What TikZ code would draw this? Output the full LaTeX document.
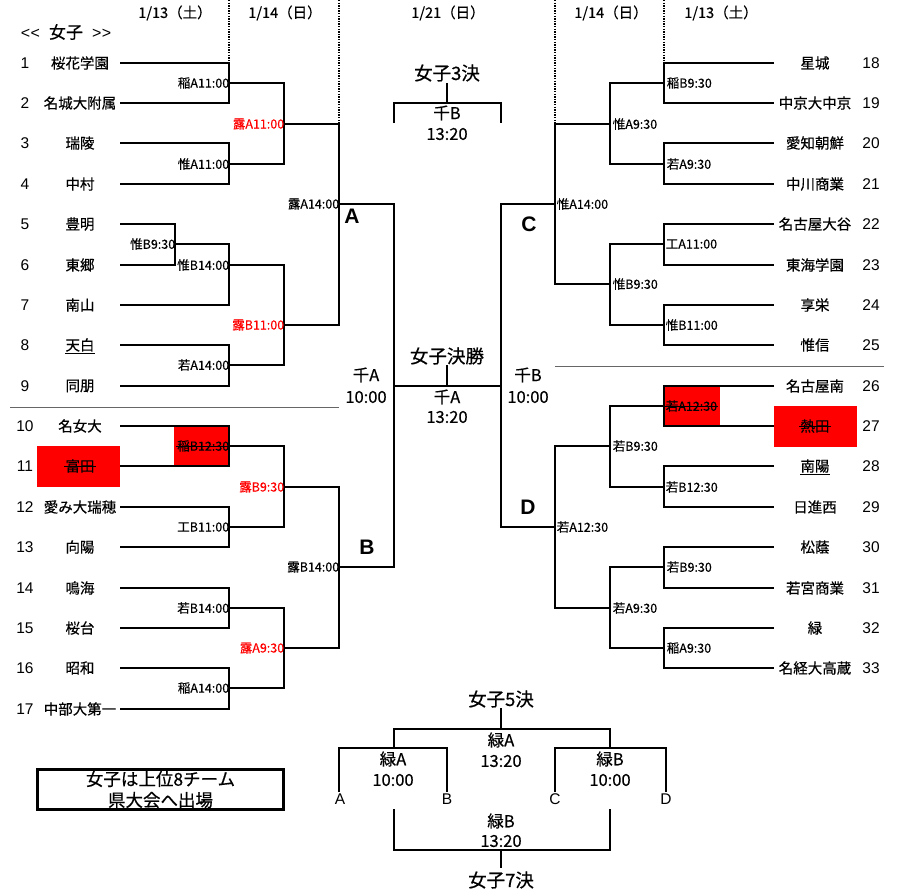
\documentclass[tikz,border=0pt]{standalone}
\usepackage{fontspec}
\setmainfont{Noto Sans CJK JP}[FakeBold=0.4]
\newfontfamily\arialf{Liberation Sans}
\usetikzlibrary{calc}
\definecolor{hlred}{RGB}{255,0,0}
\tikzset{
  br/.style={line width=2pt},
  sepline/.style={line width=0.9pt, black!60},
  dotline/.style={line width=1.6pt, dash pattern=on 1.4pt off 1.2pt},
  team/.style={font=\fontsize{14.5}{15}\selectfont, inner sep=1pt},
  num/.style={font=\arialf\fontsize{15.5}{16}\selectfont, inner sep=1pt},
  lab/.style={font=\fontsize{12.5}{13}\selectfont, inner sep=0.6pt},
  rlab/.style={lab, text=hlred},
  mid/.style={font=\fontsize{16.5}{17}\selectfont, inner sep=1pt},
  midt/.style={font=\fontsize{18.5}{19}\selectfont, inner sep=1pt},
  hdr/.style={font=\fontsize{14.5}{15}\selectfont, inner sep=1pt},
  letter/.style={font=\arialf\bfseries\fontsize{21}{21}\selectfont, inner sep=0pt},
  abcd/.style={font=\arialf\fontsize{15.5}{15.5}\selectfont, inner sep=0pt},
  redbox/.style={fill=hlred, draw=none},
  strike/.style={line width=0.9pt},
}
\begin{document}
\begin{tikzpicture}[x=1pt,y=-1pt]
\useasboundingbox (0,0) rectangle (899,891);
\fill[white] (0,0) rectangle (899,891);

% red highlight boxes
\fill[redbox] (37,446) rectangle (120,487);
\fill[redbox] (774,406) rectangle (857,447);
\fill[redbox] (174,426) rectangle (229,467);
\fill[redbox] (664,386) rectangle (720,426);

% headers
\node[hdr] (h1) at (175,13) {1/13（土）};
\node[hdr] (h2) at (285,13) {1/14（日）};
\node[hdr] (h3) at (448,13) {1/21（日）};
\node[hdr] (h4) at (611,13) {1/14（日）};
\node[hdr] (h5) at (721,13) {1/13（土）};
\node[font=\fontsize{17}{17}\selectfont, inner sep=1pt] (title) at (66,32)
  {{\arialf\fontsize{16}{16}\selectfont <\kern0.5pt<}\hspace{9pt}女子\hspace{9pt}{\arialf\fontsize{16}{16}\selectfont >\kern0.5pt>}};

% dotted day separators
\draw[dotline] (229,0) -- (229,63);
\draw[dotline] (339,0) -- (339,124);
\draw[dotline] (555,0) -- (555,124);
\draw[dotline] (664,0) -- (664,63);

% group separators
\draw[sepline] (10,407) -- (339,407);
\draw[sepline] (555,366) -- (884,366);

% left teams
\foreach \i/\nm in {1/桜花学園,2/名城大附属,3/瑞陵,4/中村,5/豊明,6/東郷,7/南山,8/天白,9/同朋,10/名女大,11/富田,12/愛み大瑞穂,13/向陽,14/鳴海,15/桜台,16/昭和,17/中部大第一}{
  \pgfmathsetmacro\yy{round(62.7+(\i-1)*40.37)}
  \coordinate (a\i) at (120,\yy);
  \node[num] (n\i) at (25,\yy) {\i};
  \node[team] (t\i) at (80,\yy) {\nm};
}
% right teams
\foreach \j/\nm in {18/星城,19/中京大中京,20/愛知朝鮮,21/中川商業,22/名古屋大谷,23/東海学園,24/享栄,25/惟信,26/名古屋南,27/熱田,28/南陽,29/日進西,30/松蔭,31/若宮商業,32/緑,33/名経大高蔵}{
  \pgfmathsetmacro\yy{round(62.7+(\j-18)*40.37)}
  \coordinate (b\j) at (774,\yy);
  \node[team] (t\j) at (815,\yy) {\nm};
  \node[num] (n\j) at (871,\yy) {\j};
}
% strike / underline on team names
\draw[strike] (t11.west) -- (t11.east);
\draw[strike] (t27.west) -- (t27.east);
\draw[line width=0.9pt] ($(t8.base west)+(1,2.8)$) -- ($(t8.base east)+(-1,2.8)$);
\draw[line width=0.9pt] ($(t28.base west)+(1,2.8)$) -- ($(t28.base east)+(-1,2.8)$);

% left match points
\coordinate (m1) at (229,83);
\coordinate (m2) at (229,164);
\coordinate (m3) at (284,124);
\coordinate (m4) at (175,244);
\coordinate (m5) at (229,265);
\coordinate (m6) at (229,365);
\coordinate (m7) at (284,325);
\coordinate (m8) at (339,204);
\coordinate (m9) at (229,446);
\coordinate (m10) at (229,527);
\coordinate (m11) at (284,487);
\coordinate (m12) at (229,608);
\coordinate (m13) at (229,688);
\coordinate (m14) at (284,648);
\coordinate (m15) at (339,567);
\coordinate (sL) at (394,386);
\coordinate (sR) at (501,386);
% right match points
\coordinate (q1) at (664,83);
\coordinate (q2) at (664,164);
\coordinate (q3) at (610,124);
\coordinate (q4) at (664,244);
\coordinate (q5) at (664,325);
\coordinate (q6) at (610,284);
\coordinate (q7) at (555,204);
\coordinate (q8) at (664,406);
\coordinate (q9) at (664,487);
\coordinate (q10) at (610,446);
\coordinate (q11) at (664,567);
\coordinate (q12) at (664,648);
\coordinate (q13) at (610,608);
\coordinate (q14) at (555,527);

% left bracket
\draw[br] (a1) -| (m1) |- (a2);
\draw[br] (a3) -| (m2) |- (a4);
\draw[br] (m1) -| (m3) |- (m2);
\draw[br] (a5) -| (m4) |- (a6);
\draw[br] (m4) -| (m5) |- (a7);
\draw[br] (a8) -| (m6) |- (a9);
\draw[br] (m5) -| (m7) |- (m6);
\draw[br] (m3) -| (m8) |- (m7);
\draw[br] (a10) -| (m9) |- (a11);
\draw[br] (a12) -| (m10) |- (a13);
\draw[br] (m9) -| (m11) |- (m10);
\draw[br] (a14) -| (m12) |- (a15);
\draw[br] (a16) -| (m13) |- (a17);
\draw[br] (m12) -| (m14) |- (m13);
\draw[br] (m11) -| (m15) |- (m14);
\draw[br] (m8) -| (sL) |- (m15);
% right bracket
\draw[br] (b18) -| (q1) |- (b19);
\draw[br] (b20) -| (q2) |- (b21);
\draw[br] (q1) -| (q3) |- (q2);
\draw[br] (b22) -| (q4) |- (b23);
\draw[br] (b24) -| (q5) |- (b25);
\draw[br] (q4) -| (q6) |- (q5);
\draw[br] (q3) -| (q7) |- (q6);
\draw[br] (b26) -| (q8) |- (b27);
\draw[br] (b28) -| (q9) |- (b29);
\draw[br] (q8) -| (q10) |- (q9);
\draw[br] (b30) -| (q11) |- (b31);
\draw[br] (b32) -| (q12) |- (b33);
\draw[br] (q11) -| (q13) |- (q12);
\draw[br] (q10) -| (q14) |- (q13);
% final
\draw[br] (sL) -- (sR);
\draw[br] (q7) -| (sR) |- (q14);
\coordinate (fin) at (447,386);
\coordinate (finT) at (447,365);
\draw[br] (fin) -- (finT);

% left labels
\node[lab,anchor=east,xshift=1pt] (lm1) at (m1) {稲A11:00};
\node[lab,anchor=east,xshift=1pt] (lm2) at (m2) {惟A11:00};
\node[rlab,anchor=east,xshift=1pt] (lm3) at (m3) {露A11:00};
\node[lab,anchor=east,xshift=1pt] (lm4) at (m4) {惟B9:30};
\node[lab,anchor=east,xshift=1pt] (lm5) at (m5) {惟B14:00};
\node[lab,anchor=east,xshift=1pt] (lm6) at (m6) {若A14:00};
\node[rlab,anchor=east,xshift=1pt] (lm7) at (m7) {露B11:00};
\node[lab,anchor=east,xshift=1pt] (lm8) at (m8) {露A14:00};
\node[lab,anchor=east,xshift=1pt] (lm9) at (m9) {稲B12:30};
\node[lab,anchor=east,xshift=1pt] (lm10) at (m10) {工B11:00};
\node[rlab,anchor=east,xshift=1pt] (lm11) at (m11) {露B9:30};
\node[lab,anchor=east,xshift=1pt] (lm12) at (m12) {若B14:00};
\node[lab,anchor=east,xshift=1pt] (lm13) at (m13) {稲A14:00};
\node[rlab,anchor=east,xshift=1pt] (lm14) at (m14) {露A9:30};
\node[lab,anchor=east,xshift=1pt] (lm15) at (m15) {露B14:00};
\draw[strike] (lm9.west) -- (lm9.east);
% right labels
\node[lab,anchor=west,xshift=2pt] (lq1) at (q1) {稲B9:30};
\node[lab,anchor=west,xshift=2pt] (lq2) at (q2) {若A9:30};
\node[lab,anchor=west,xshift=2pt] (lq3) at (q3) {惟A9:30};
\node[lab,anchor=west,xshift=1pt] (lq4) at (q4) {工A11:00};
\node[lab,anchor=west,xshift=1pt] (lq5) at (q5) {惟B11:00};
\node[lab,anchor=west,xshift=2pt] (lq6) at (q6) {惟B9:30};
\node[lab,anchor=west,xshift=1pt] (lq7) at (q7) {惟A14:00};
\node[lab,anchor=west,xshift=1pt] (lq8) at (q8) {若A12:30};
\node[lab,anchor=west,xshift=1pt] (lq9) at (q9) {若B12:30};
\node[lab,anchor=west,xshift=2pt] (lq10) at (q10) {若B9:30};
\node[lab,anchor=west,xshift=2pt] (lq11) at (q11) {若B9:30};
\node[lab,anchor=west,xshift=2pt] (lq12) at (q12) {稲A9:30};
\node[lab,anchor=west,xshift=2pt] (lq13) at (q13) {若A9:30};
\node[lab,anchor=west,xshift=1pt] (lq14) at (q14) {若A12:30};
\draw[strike] (lq8.west) -- (lq8.east);

% block letters
\node[letter] (LA) at (352,216) {A};
\node[letter] (LB) at (367,547) {B};
\node[letter] (LC) at (529,224) {C};
\node[letter] (LD) at (528,507) {D};

% centre texts
\node[midt] (finTitle) at (447,356) {女子決勝};
\node[mid] (finV) at (447,397) {千A};
\node[mid] (finT2) at (447,417) {13:20};
\node[mid] (sLV) at (366,375) {千A};
\node[mid] (sLT) at (366,397) {10:00};
\node[mid] (sRV) at (528,375) {千B};
\node[mid] (sRT) at (528,397) {10:00};

% 3rd place
\coordinate (tL) at (394,123);
\coordinate (tp) at (447,103);
\coordinate (tR) at (501,123);
\coordinate (tS) at (447,83);
\draw[br] (tL) |- (tp) -| (tR);
\draw[br] (tp) -- (tS);
\node[midt] (tTitle) at (447,73) {女子3決};
\node[mid] (tV) at (447,113) {千B};
\node[mid] (tT) at (447,134) {13:20};

% 5th / 7th place
\coordinate (f5) at (501,729);
\coordinate (f5S) at (501,708);
\coordinate (fL) at (394,748);
\coordinate (fR) at (610,748);
\coordinate (pA) at (339,792);
\coordinate (pB) at (447,792);
\coordinate (pC) at (555,792);
\coordinate (pD) at (666,792);
\draw[br] (fL) |- (f5) -| (fR);
\draw[br] (f5) -- (f5S);
\draw[br] (pA) |- (fL) -| (pB);
\draw[br] (pC) |- (fR) -| (pD);
\coordinate (gL) at (394,809);
\coordinate (g7) at (501,850);
\coordinate (gR) at (610,809);
\coordinate (g7S) at (501,868);
\draw[br] (gL) |- (g7) -| (gR);
\draw[br] (g7) -- (g7S);
\node[midt] (f5Title) at (501,699) {女子5決};
\node[mid] (f5V) at (501,740) {緑A};
\node[mid] (f5T) at (501,761) {13:20};
\node[mid] (fLV) at (393,759) {緑A};
\node[mid] (fLT) at (393,780) {10:00};
\node[mid] (fRV) at (610,759) {緑B};
\node[mid] (fRT) at (610,780) {10:00};
\node[abcd] (xA) at (340,799) {A};
\node[abcd] (xB) at (447,799) {B};
\node[abcd] (xC) at (555,799) {C};
\node[abcd] (xD) at (666,799) {D};
\node[mid] (g7V) at (501,821) {緑B};
\node[mid] (g7T) at (501,841) {13:20};
\node[midt] (g7Title) at (501,880) {女子7決};

% note box
\node[draw, line width=2.8pt, minimum width=246pt, minimum height=40pt, inner sep=0pt,
      align=center, font=\fontsize{17.5}{21}\selectfont] (note) at (160.5,789.5) {女子は上位8チーム\\県大会へ出場};
\end{tikzpicture}
\end{document}
